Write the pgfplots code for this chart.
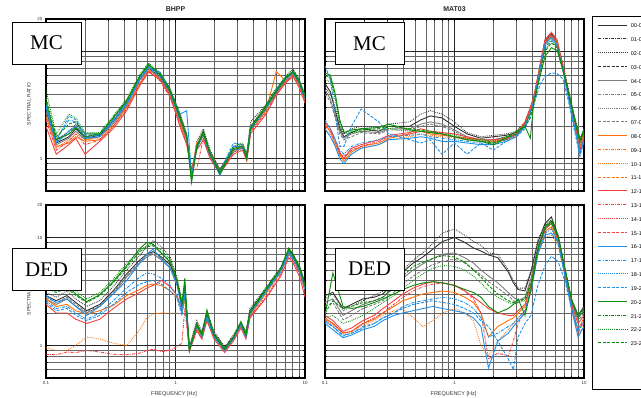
\documentclass[border=0pt]{standalone}
\usepackage{fontspec}
\setmainfont{Liberation Sans}
\newfontfamily\timesfont{Liberation Serif}
\usepackage{pgfplots}
\usepackage{pgfplotstable}
\pgfplotsset{compat=1.18}
\pgfplotsset{/pgf/number format/assume math mode=true}

\definecolor{cblack}{RGB}{50,50,50}
\definecolor{cgray}{RGB}{125,125,125}
\definecolor{corange}{RGB}{255,112,10}
\definecolor{cred}{RGB}{245,65,65}
\definecolor{cblue}{RGB}{30,145,235}
\definecolor{cgreen}{RGB}{10,140,10}

\tikzset{
 pso/.style={solid},
 pdd/.style={dash pattern=on 3bp off 1.2bp on 0.8bp off 1.2bp},
 pdt/.style={dash pattern=on 0.8bp off 1.1bp},
 pds/.style={dash pattern=on 3bp off 1.5bp},
 h00/.style={color=cblack,pso}, h01/.style={color=cblack,pdd}, h02/.style={color=cblack,pdt}, h03/.style={color=cblack,pds},
 h04/.style={color=cgray,pso}, h05/.style={color=cgray,pdd}, h06/.style={color=cgray,pdt}, h07/.style={color=cgray,pds},
 h08/.style={color=corange,pso}, h09/.style={color=corange,pdd}, h10/.style={color=corange,pdt}, h11/.style={color=corange,pds},
 h12/.style={color=cred,pso}, h13/.style={color=cred,pdd}, h14/.style={color=cred,pdt}, h15/.style={color=cred,pds},
 h16/.style={color=cblue,pso}, h17/.style={color=cblue,pdd}, h18/.style={color=cblue,pdt}, h19/.style={color=cblue,pds},
 h20/.style={color=cgreen,pso}, h21/.style={color=cgreen,pdd}, h22/.style={color=cgreen,pdt}, h23/.style={color=cgreen,pds},
}

\pgfplotstableread{
x h00 h02 h04 h07 h08 h10 h12 h13 h16 h17 h19 h20 h22 h23
0.10 2.8 2.9 2.7 3.0 2.5 2.4 2.0 2.3 3.0 3.1 3.2 3.4 4.3 3.7
0.12 1.4 1.5 1.35 1.45 1.3 1.25 1.1 1.2 1.4 1.5 1.45 1.5 1.7 1.6
0.15 1.6 1.8 1.55 1.7 1.4 1.5 1.35 1.45 1.8 2.3 2.5 1.7 2.6 2.1
0.17 1.9 2.1 1.8 2.0 1.6 1.7 1.55 1.7 2.0 2.2 2.3 1.95 2.4 2.2
0.20 1.55 1.6 1.5 1.65 1.45 1.5 1.1 1.35 1.55 1.6 1.7 1.6 1.75 1.7
0.26 1.65 1.7 1.6 1.7 1.5 1.55 1.45 1.5 1.6 1.65 1.7 1.7 1.75 1.7
0.33 2.2 2.3 2.1 2.3 2.0 2.1 1.9 2.0 2.2 2.3 2.25 2.4 2.5 2.4
0.42 3.2 3.4 3.1 3.3 3.0 3.1 2.8 2.9 3.2 3.3 3.2 3.5 3.6 3.4
0.53 5.5 5.8 5.4 5.7 5.0 5.2 4.8 5.0 5.5 5.6 5.4 5.9 6.1 5.8
0.62 7.0 7.4 6.8 7.2 6.5 6.8 6.4 6.6 7.0 7.2 7.1 7.6 7.8 7.4
0.76 5.8 6.2 5.6 5.9 5.4 5.6 5.5 5.3 6.4 6.0 5.8 6.0 6.3 6.1
0.90 4.3 4.6 4.1 4.4 3.9 4.1 4.0 3.8 4.5 4.3 4.2 4.4 4.6 4.3
1.08 2.5 2.7 2.3 2.5 2.2 2.3 2.0 2.1 2.6 2.4 2.3 2.4 2.6 2.5
1.22 1.6 1.7 1.5 1.6 1.45 1.5 1.35 1.4 2.8 1.6 1.55 1.6 1.7 1.6
1.33 0.68 0.7 0.66 0.7 0.75 0.72 0.8 0.78 0.7 0.68 0.66 0.6 0.62 0.64
1.46 1.3 1.45 1.25 1.35 1.4 1.3 1.2 0.8 1.3 1.25 1.3 1.3 1.35 1.25
1.64 1.8 1.9 1.7 1.75 1.6 1.65 1.5 1.55 1.7 1.65 1.7 1.75 1.85 1.7
1.85 1.15 1.2 1.1 1.15 1.05 1.1 1.0 1.05 1.1 1.05 1.1 1.1 1.15 1.1
2.2 0.8 0.78 0.77 0.8 0.75 0.76 0.72 0.74 0.7 0.73 0.75 0.74 0.76 0.72
2.8 1.2 1.3 1.15 1.25 1.2 1.25 1.1 1.15 1.3 1.2 1.4 1.25 1.3 1.2
3.3 1.3 1.35 1.25 1.3 1.3 1.35 1.2 1.25 1.3 1.25 1.35 1.3 1.4 1.3
3.55 1.05 1.1 1.0 1.05 1.05 1.1 0.95 1.0 1.05 1.0 1.1 1.0 1.1 1.05
3.8 2.0 2.2 1.9 2.0 1.8 1.9 1.7 1.8 1.9 1.85 1.95 1.9 2.0 1.9
5.0 3.0 3.2 2.9 3.1 2.8 2.9 2.6 2.7 3.0 2.9 3.0 3.1 3.2 3.0
6.0 4.2 4.5 4.0 4.3 6.5 4.2 3.9 4.0 4.4 4.2 4.3 4.3 4.5 4.2
7.2 5.6 6.0 5.4 5.7 5.2 5.5 5.2 5.3 5.8 5.6 5.7 5.8 6.0 5.7
8.1 6.5 6.8 6.2 6.4 5.9 6.1 5.8 6.0 6.4 6.2 6.3 6.5 6.7 6.4
9.0 5.2 5.5 5.0 5.3 4.8 5.0 4.6 4.9 5.2 5.0 5.1 5.3 5.5 5.2
10 3.7 3.9 3.6 3.8 3.5 3.6 3.3 3.5 3.8 3.6 3.7 3.8 4.0 3.7
}\tabA

\pgfplotstableread{
x h00 h02 h04 h07 h08 h10 h12 h13 h16 h17 h19 h20 h22 h23
0.10 5.0 4.6 4.4 4.0 2.1 1.9 2.2 2.0 1.9 2.3 7.3 6.3 5.5 6.0
0.11 4.2 4.0 3.6 3.4 1.8 1.7 1.9 1.8 1.6 1.9 5.5 6.0 5.2 5.6
0.12 2.8 3.0 2.5 2.4 1.4 1.3 1.5 1.4 1.3 1.5 2.6 4.0 3.5 3.8
0.13 1.9 2.0 1.8 1.7 1.1 1.05 1.15 1.1 1.0 1.2 1.3 2.3 2.1 2.2
0.14 1.6 1.7 1.55 1.5 0.95 1.0 1.0 1.05 0.9 1.1 1.3 1.75 1.7 1.8
0.16 1.75 1.9 1.7 1.6 1.15 1.2 1.25 1.2 1.1 1.3 2.0 1.85 1.75 1.8
0.19 1.9 2.0 1.8 1.75 1.3 1.25 1.35 1.3 1.25 1.4 2.9 1.9 1.8 1.85
0.26 1.8 1.95 1.75 1.7 1.4 1.35 1.5 1.45 1.35 1.5 2.2 1.95 1.85 1.9
0.31 2.0 2.1 1.9 1.85 1.55 1.5 1.65 1.6 1.5 1.6 1.7 2.1 1.9 2.0
0.45 2.0 2.2 1.9 1.85 1.7 1.6 1.75 1.7 1.55 1.65 1.5 1.85 1.8 1.9
0.55 2.3 2.6 2.1 2.0 1.8 1.7 1.9 1.8 1.6 1.7 1.4 1.8 1.8 1.85
0.65 2.5 2.8 2.2 2.1 1.7 1.65 1.8 1.75 1.55 1.6 1.5 1.75 1.8 1.8
0.80 2.4 2.6 2.1 2.0 1.65 1.6 1.75 1.7 1.45 1.55 1.1 1.7 1.75 1.7
1.0 2.0 2.2 1.85 1.8 1.6 1.55 1.7 1.6 1.45 1.5 1.4 1.6 1.65 1.6
1.25 1.7 1.75 1.6 1.55 1.55 1.5 1.6 1.55 1.4 1.45 1.1 1.5 1.55 1.5
1.6 1.55 1.6 1.5 1.45 1.5 1.45 1.5 1.45 1.35 1.4 1.4 1.45 1.5 1.45
2.0 1.6 1.65 1.5 1.5 1.45 1.4 1.5 1.45 1.35 1.4 1.2 1.35 1.45 1.4
2.5 1.65 1.7 1.6 1.55 1.5 1.5 1.55 1.5 1.45 1.5 1.45 1.55 1.6 1.55
3.0 1.75 1.8 1.7 1.65 1.7 1.65 1.7 1.65 1.6 1.65 1.6 1.8 1.75 1.7
3.5 2.1 2.2 2.0 2.0 2.1 2.0 2.2 2.1 2.0 2.0 1.9 2.0 2.1 2.0
3.85 2.8 3.0 2.7 2.7 2.9 2.8 3.0 2.9 2.7 2.7 2.5 1.55 2.6 2.4
4.1 3.6 3.8 3.5 3.4 3.7 3.5 3.8 3.6 3.4 3.5 3.2 3.4 3.3 3.2
4.6 7.5 7.8 7.0 7.0 7.4 7.0 7.6 7.2 7.0 6.8 5.0 6.0 6.4 6.2
5.0 12.5 13.0 11.5 11.8 12.2 11.6 12.8 12.0 11.8 11.0 5.8 9.0 10.5 10.0
5.6 14.5 15.0 13.5 13.8 14.0 13.5 15.0 14.0 13.5 12.8 6.3 10.8 12.5 12.0
6.2 12.0 12.5 11.5 11.6 12.2 11.8 12.8 12.0 11.5 11.0 6.2 10.2 11.0 10.8
6.9 7.0 7.4 6.8 6.6 7.0 6.8 7.2 6.9 6.5 6.4 5.5 6.6 6.8 6.6
7.6 4.2 4.4 4.0 3.9 4.0 3.9 4.1 3.9 3.7 3.6 3.4 4.1 4.2 4.0
8.3 2.6 2.7 2.5 2.4 2.4 2.3 2.4 2.3 2.2 2.2 2.0 2.6 2.6 2.5
9.3 1.5 1.55 1.45 1.4 1.3 1.25 1.2 1.25 1.1 1.15 1.05 1.5 1.45 1.4
10 1.8 1.85 1.75 1.7 1.7 1.65 1.6 1.65 1.5 1.55 1.45 1.9 1.8 1.75
}\tabB

\pgfplotstableread{
x h00 h02 h04 h07 h08 h10 h12 h13 h16 h17 h19 h20 h22 h23
0.10 2.9 3.1 2.7 2.8 2.7 0.95 2.4 0.83 2.9 2.6 2.5 3.6 3.9 3.4
0.12 2.6 2.8 2.4 2.5 2.3 0.9 2.0 0.82 2.5 2.2 2.1 3.3 3.5 3.1
0.145 2.9 3.2 2.7 2.8 2.4 0.9 2.0 0.87 2.7 2.3 2.2 3.6 3.8 3.4
0.17 2.5 2.7 2.3 2.4 2.1 1.0 1.75 0.86 2.3 2.0 1.9 3.0 3.2 2.9
0.206 2.1 2.3 2.0 2.05 1.95 1.2 1.6 0.9 1.9 1.75 1.7 2.55 2.7 2.5
0.26 2.4 2.6 2.3 2.35 2.1 1.15 1.75 0.87 2.3 2.0 1.9 2.95 3.1 2.9
0.33 3.2 3.5 3.0 3.1 2.35 1.05 2.2 0.83 3.0 2.6 2.4 3.9 4.1 3.8
0.42 4.6 5.0 4.3 4.4 2.9 1.0 2.7 0.82 4.0 3.4 3.1 5.5 5.8 5.3
0.53 6.2 6.8 5.8 6.0 3.3 1.4 3.1 0.85 5.8 4.3 3.7 7.9 7.6 7.4
0.6 7.0 8.2 6.6 6.8 3.6 1.8 3.4 0.9 7.0 4.7 3.9 9.0 8.4 8.2
0.67 7.4 9.3 7.0 7.2 3.7 1.95 3.6 0.92 7.8 4.6 4.0 8.7 8.6 8.4
0.78 6.6 8.2 6.2 6.4 3.6 2.0 4.0 0.88 6.3 4.2 3.7 7.1 7.6 7.2
0.91 5.6 6.6 5.2 5.4 3.2 2.0 3.5 0.9 5.2 3.6 3.2 5.9 6.3 6.0
1.03 3.8 4.2 3.6 3.7 2.8 2.0 2.9 0.98 3.6 2.9 2.7 3.9 4.1 3.9
1.12 2.4 2.6 2.3 2.4 2.1 1.95 2.1 1.05 2.2 2.0 1.9 2.4 2.5 2.4
1.18 3.4 3.6 3.2 3.3 3.0 2.6 2.9 2.2 3.2 3.0 2.9 4.2 3.6 3.4
1.28 0.95 0.98 0.93 0.95 0.9 0.92 0.88 0.9 0.93 0.92 0.9 0.89 0.94 0.92
1.46 1.6 1.7 1.55 1.6 1.5 1.45 1.4 1.35 1.55 1.5 1.5 1.56 1.6 1.55
1.6 1.3 1.35 1.25 1.3 1.2 1.25 1.15 1.15 1.25 1.2 1.2 1.25 1.3 1.25
1.75 2.0 2.1 1.9 2.0 1.8 1.85 1.7 1.75 1.9 1.85 1.8 2.14 2.0 1.95
1.98 1.3 1.35 1.25 1.3 1.2 1.25 1.15 1.2 1.25 1.2 1.2 1.25 1.3 1.25
2.4 0.95 0.98 0.93 0.95 0.9 0.92 0.86 0.88 0.9 0.9 0.9 0.92 0.95 0.93
2.8 1.2 1.25 1.15 1.2 1.15 1.2 1.1 1.15 1.2 1.15 1.15 1.18 1.22 1.2
3.2 1.6 1.65 1.55 1.6 1.5 1.55 1.45 1.5 1.6 1.55 1.55 1.67 1.65 1.6
3.5 1.3 1.35 1.25 1.3 1.2 1.25 1.15 1.2 1.25 1.2 1.2 1.25 1.3 1.25
3.76 2.1 2.2 2.0 2.05 1.9 2.0 1.8 1.85 2.0 1.95 1.95 2.06 2.1 2.0
5.06 3.4 3.5 3.3 3.35 3.1 3.2 2.8 2.9 3.3 3.2 3.2 3.4 3.5 3.35
6.5 5.1 5.3 4.9 5.0 4.8 4.9 4.4 4.6 5.0 4.9 4.8 5.2 5.3 5.1
7.5 7.6 7.9 7.3 7.5 7.0 7.2 6.5 6.8 7.4 7.2 7.0 7.9 8.0 7.7
8.1 6.8 7.0 6.5 6.6 6.3 6.4 5.8 6.1 6.6 6.4 6.3 6.8 7.0 6.7
9.1 5.2 5.4 5.0 5.1 4.8 4.9 4.3 4.6 5.1 4.9 4.8 5.2 5.4 5.1
10 3.6 3.8 3.5 3.6 3.3 3.4 2.8 3.1 3.5 3.4 3.3 3.6 3.8 3.5
}\tabC

\pgfplotstableread{
x h00 h02 h04 h07 h08 h10 h12 h13 h16 h17 h19 h20 h22 h23
0.10 2.9 2.7 2.5 2.3 1.8 1.7 1.9 1.75 1.6 1.7 1.65 1.9 1.8 2.0
0.115 3.1 3.0 2.7 2.5 1.6 1.55 1.7 1.6 1.4 1.5 1.5 4.7 1.9 2.6
0.138 2.2 2.1 1.9 1.73 1.3 1.3 1.35 1.3 1.18 1.25 1.22 2.3 1.6 2.2
0.16 2.4 2.3 2.1 1.9 1.35 1.35 1.45 1.35 1.25 1.3 1.3 2.2 1.7 2.3
0.196 2.7 2.6 2.4 2.2 1.6 1.55 1.7 1.6 1.4 1.5 1.45 2.3 1.9 2.5
0.24 2.8 2.9 2.6 2.4 1.75 1.7 1.9 1.8 1.5 1.6 1.6 2.5 2.2 2.6
0.28 3.0 3.2 2.8 2.6 2.0 1.9 2.2 2.0 1.7 1.8 1.8 2.7 2.5 2.8
0.34 3.8 4.0 3.4 3.1 2.3 2.1 2.6 2.4 1.9 2.0 2.0 3.0 2.9 3.5
0.40 4.8 5.0 4.2 3.7 2.6 2.2 3.0 2.8 2.0 2.3 2.2 3.3 3.4 4.4
0.48 5.8 6.2 5.0 4.4 2.8 1.8 3.4 3.2 2.1 2.5 2.4 3.6 4.0 5.4
0.57 6.6 7.2 5.7 5.0 3.0 1.5 3.7 3.5 2.2 2.6 2.5 3.8 4.6 5.9
0.68 7.8 8.8 6.4 5.6 3.1 1.7 3.9 3.7 2.3 2.7 2.6 3.9 5.2 6.4
0.81 9.2 11.0 7.0 6.0 3.2 2.0 3.8 3.8 2.2 2.8 2.5 3.8 5.5 6.8
1.0 10.0 12.0 7.2 6.3 3.1 2.2 3.6 3.6 2.1 2.7 2.4 3.6 5.4 6.6
1.2 9.0 10.5 6.5 5.8 2.8 2.0 3.2 3.2 2.0 2.5 2.2 3.3 5.0 5.9
1.4 8.0 9.2 5.8 5.1 2.5 1.7 2.8 2.7 1.8 2.2 2.0 3.1 4.4 5.0
1.6 7.5 8.5 5.0 4.5 2.0 1.0 2.5 2.0 1.5 1.8 1.7 2.8 3.8 4.3
1.83 6.9 7.2 4.4 3.9 1.2 0.8 2.2 0.75 0.62 1.2 1.5 2.3 3.2 3.6
2.16 6.5 7.0 3.8 3.4 1.5 1.1 2.0 0.85 1.1 1.3 1.1 2.0 2.8 3.0
2.6 4.8 5.0 3.1 2.9 1.7 1.4 1.9 0.8 1.3 1.5 0.75 2.2 2.5 2.6
2.85 3.8 4.0 2.8 2.6 1.8 1.6 1.9 1.1 1.5 1.6 0.6 2.4 2.4 2.5
3.1 3.3 3.4 2.6 2.5 2.0 1.8 2.1 1.6 1.7 1.8 1.2 2.7 2.5 2.6
3.5 3.2 3.4 2.8 2.7 2.3 2.1 2.4 2.1 2.0 2.1 1.6 1.9 2.6 2.7
3.9 4.8 5.0 4.2 4.0 3.6 3.3 3.8 3.4 3.2 3.3 1.9 3.3 3.6 3.8
4.4 9.0 9.6 8.2 8.0 7.5 7.0 7.8 7.2 7.0 7.2 3.6 7.6 7.8 8.0
5.0 13.5 13.0 12.5 12.0 11.5 10.0 12.0 11.0 10.5 11.0 5.5 12.5 12.0 12.8
5.6 15.5 14.5 14.0 13.5 12.5 10.5 13.5 12.0 11.0 12.0 6.7 14.0 13.5 14.5
6.3 10.5 10.2 10.0 9.8 9.5 8.5 9.8 9.0 9.0 9.2 6.0 10.2 10.0 10.5
7.1 5.2 5.0 5.0 4.9 4.8 4.5 4.9 4.6 4.5 4.6 4.0 5.3 5.1 5.3
8.0 2.6 2.5 2.5 2.4 2.3 2.2 2.4 2.2 2.2 2.3 2.2 2.7 2.6 2.7
9.0 1.9 1.8 1.8 1.7 1.4 1.2 1.6 1.3 1.2 1.4 1.4 1.9 1.8 1.9
10 2.3 2.2 2.1 2.0 1.8 1.6 1.9 1.7 1.5 1.7 1.6 2.2 2.1 2.2
}\tabD

\newcommand\drawpanel[4]{%
\begin{axis}[anchor=south west, at={#1}, scale only axis, width=259bp, height=#2,
 xmode=log, ymode=log, xmin=0.1, xmax=10, ymin=0.5, ymax=20,
 xtick={0.1,1,10}, ytick={1,10,20},
 minor xtick={0.2,0.3,0.4,0.5,0.6,0.7,0.8,0.9,2,3,4,5,6,7,8,9},
 minor ytick={0.6,0.7,0.8,0.9,2,3,4,5,6,7,8,9},
 grid=both,
 major grid style={black!85, line width=0.75bp},
 minor grid style={black!60, line width=0.45bp},
 axis line style={black, line width=1.1bp},
 major tick length=3bp, minor tick length=2bp,
 tick style={black, line width=0.5bp},
 tick label style={font=\fontsize{4.5}{5}\selectfont, text=black!80},
 xticklabels={}, yticklabels={}, #4]
\pgfplotsinvokeforeach{00,02,04,07,08,10,12,13,16,17,19,20,22,23}{\addplot[h##1, line width=0.9bp] table[x=x,y=h##1]{#3};}
\end{axis}}

\begin{document}
\begin{tikzpicture}[x=1bp,y=1bp]
\drawpanel{(46bp,206bp)}{172bp}{\tabA}{yticklabels={1,,20}}
\drawpanel{(325bp,206bp)}{172bp}{\tabB}{}
\drawpanel{(46bp,19bp)}{173bp}{\tabC}{yticklabels={1,10,20}, xticklabels={0.1,1,10}}
\drawpanel{(325bp,19bp)}{173bp}{\tabD}{xticklabels={0.1,1,10}}
% legend
\begin{axis}[at={(598bp,8bp)}, anchor=south west, scale only axis, width=40bp, height=365bp, hide axis,
 xmin=0, xmax=1, ymin=0, ymax=1,
 legend style={at={(0,1)}, anchor=north west, draw=none, fill=none, inner sep=0pt, outer sep=0pt,
   row sep=8.5bp, column sep=3bp, font=\fontsize{5.5}{6}\selectfont,
   nodes={inner sep=0pt}},
 legend cell align=left,
 legend image code/.code={\draw[#1, line width=0.9bp] (0bp,1.6bp) -- (29bp,1.6bp);}]
\addlegendimage{h00}\addlegendentry{00-01}
\addlegendimage{h01}\addlegendentry{01-02}
\addlegendimage{h02}\addlegendentry{02-03}
\addlegendimage{h03}\addlegendentry{03-04}
\addlegendimage{h04}\addlegendentry{04-05}
\addlegendimage{h05}\addlegendentry{05-06}
\addlegendimage{h06}\addlegendentry{06-07}
\addlegendimage{h07}\addlegendentry{07-08}
\addlegendimage{h08}\addlegendentry{08-09}
\addlegendimage{h09}\addlegendentry{09-10}
\addlegendimage{h10}\addlegendentry{10-11}
\addlegendimage{h11}\addlegendentry{11-12}
\addlegendimage{h12}\addlegendentry{12-13}
\addlegendimage{h13}\addlegendentry{13-14}
\addlegendimage{h14}\addlegendentry{14-15}
\addlegendimage{h15}\addlegendentry{15-16}
\addlegendimage{h16}\addlegendentry{16-17}
\addlegendimage{h17}\addlegendentry{17-18}
\addlegendimage{h18}\addlegendentry{18-19}
\addlegendimage{h19}\addlegendentry{19-20}
\addlegendimage{h20}\addlegendentry{20-21}
\addlegendimage{h21}\addlegendentry{21-22}
\addlegendimage{h22}\addlegendentry{22-23}
\addlegendimage{h23}\addlegendentry{23-24}
\end{axis}
\draw[line width=0.9bp] (592,8) rectangle (700,381);
% titles and labels
\node[font=\bfseries\fontsize{7}{7}\selectfont, text=black!85] at (175.5,388) {BHPP};
\node[font=\bfseries\fontsize{7}{7}\selectfont, text=black!85] at (454.5,388) {MAT03};
\node[rotate=90, font=\fontsize{5}{5}\selectfont, text=black!80] at (29,293) {SPECTRAL RATIO};
\node[rotate=90, font=\fontsize{5}{5}\selectfont, text=black!80] at (29,103) {SPECTRAL RATIO};
\node[font=\fontsize{5.5}{5.5}\selectfont, text=black!80] at (174,3) {FREQUENCY [Hz]};
\node[font=\fontsize{5.5}{5.5}\selectfont, text=black!80] at (453.5,3) {FREQUENCY [Hz]};
% boxes
\tikzset{lbl/.style={draw=black, line width=0.8bp, fill=white, minimum width=69bp, minimum height=42bp, inner sep=0pt, font=\timesfont\fontsize{21}{21}\selectfont}}
\node[lbl] at (46.5,354) {MC};
\node[lbl] at (369.5,353.5) {MC};
\node[lbl] at (46.5,127.5) {DED};
\node[lbl] at (369.5,128) {DED};
\pgfresetboundingbox
\path[use as bounding box] (0,0) rectangle (641,397);
\end{tikzpicture}
\end{document}
